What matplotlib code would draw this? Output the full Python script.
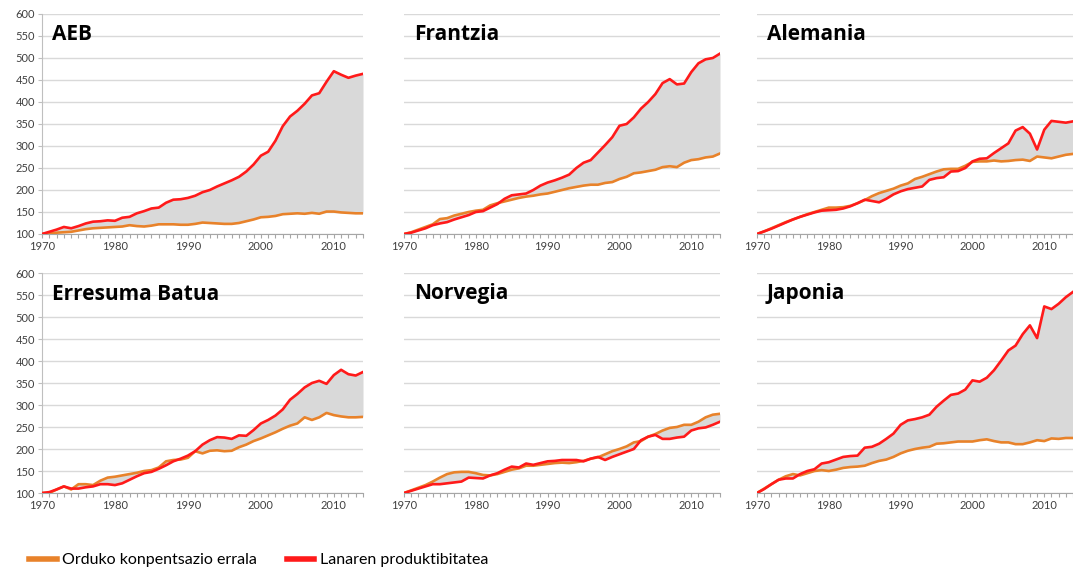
import numpy as np
import matplotlib.pyplot as plt
from matplotlib.lines import Line2D
from matplotlib import font_manager

plt.rcParams['font.family'] = ['Lato', 'DejaVu Sans']

years = np.arange(1970, 2015)

# AEB
aeb_prod = [100, 105, 110, 116, 113, 118, 124, 128, 129, 131, 130, 137, 139, 147, 152,
            158, 160, 171, 178, 179, 182, 187, 195, 200, 208, 215, 222, 230, 242, 258,
            278, 287, 312, 345, 367, 380, 396, 415, 420, 446, 470, 462, 455, 460, 464]
aeb_comp = [100, 101, 103, 104, 105, 108, 111, 113, 114, 115, 116, 117, 120, 118, 117,
            119, 122, 122, 122, 121, 121, 123, 126, 125, 124, 123, 123, 125, 129, 133,
            138, 139, 141, 145, 146, 147, 146, 148, 146, 151, 151, 149, 148, 147, 147]

# Frantzia
fra_prod = [100, 103, 108, 113, 120, 124, 127, 133, 138, 143, 150, 152, 160, 168, 180,
            188, 190, 192, 200, 210, 217, 222, 228, 235, 250, 262, 268, 285, 302, 320,
            346, 350, 365, 385, 400, 418, 443, 452, 440, 442, 468, 488, 497, 500, 510]
fra_comp = [100, 104, 110, 116, 122, 134, 136, 142, 146, 150, 153, 155, 165, 170, 174,
            178, 182, 185, 187, 190, 192, 196, 200, 204, 207, 210, 212, 212, 216, 218,
            225, 230, 238, 240, 243, 246, 252, 254, 252, 262, 268, 270, 274, 276, 283]

# Alemania
ale_prod = [100, 106, 112, 119, 126, 133, 139, 144, 149, 153, 154, 155, 158, 163, 170,
            178, 175, 172, 180, 190, 197, 202, 205, 208, 223, 227, 229, 242, 243, 250,
            265, 271, 272, 284, 295, 306, 335, 343, 328, 292, 337, 357, 355, 353, 356]
ale_comp = [100, 106, 113, 120, 127, 133, 139, 145, 150, 155, 160, 160, 161, 164, 170,
            177, 186, 193, 198, 203, 210, 215, 225, 230, 236, 242, 247, 248, 248, 255,
            264, 265, 265, 267, 265, 266, 268, 269, 266, 276, 274, 272, 276, 280, 282]

# Erresuma Batua
uk_prod = [100, 102, 108, 115, 110, 110, 113, 115, 120, 120, 118, 122, 130, 138, 145,
           148, 155, 163, 172, 178, 185, 195, 210, 220, 227, 226, 223, 231, 230, 243,
           258, 266, 276, 290, 312, 325, 340, 350, 355, 348, 368, 380, 370, 367, 375]
uk_comp = [100, 100, 108, 115, 108, 120, 120, 118, 128, 135, 137, 140, 143, 146, 150,
           152, 158, 172, 175, 176, 180, 195, 190, 196, 197, 195, 196, 204, 210, 218,
           224, 231, 238, 246, 253, 258, 272, 266, 272, 282, 277, 274, 272, 272, 273]

# Norvegia
nor_prod = [100, 105, 110, 115, 120, 120, 122, 124, 126, 135, 134, 133, 140, 145, 153,
            160, 158, 167, 164, 168, 172, 173, 175, 175, 175, 172, 178, 182, 175, 182,
            188, 194, 200, 220, 228, 232, 223, 223, 226, 228, 242, 247, 249, 255, 262]
nor_comp = [100, 106, 112, 118, 126, 135, 143, 147, 148, 148, 145, 141, 140, 143, 148,
            153, 156, 162, 162, 164, 166, 168, 169, 168, 170, 173, 178, 181, 188, 195,
            200, 206, 215, 218, 228, 234, 242, 248, 250, 255, 255, 262, 272, 278, 280]

# Japonia
jap_prod = [100, 109, 120, 130, 133, 133, 143, 150, 154, 167, 170, 176, 182, 184, 185,
            203, 205, 212, 223, 235, 255, 265, 268, 272, 278, 296, 310, 323, 326, 335,
            356, 353, 362, 379, 401, 424, 435, 461, 481, 452, 524, 518, 530, 545, 557]
jap_comp = [100, 110, 120, 130, 138, 143, 140, 145, 150, 152, 150, 153, 157, 159, 160,
            162, 168, 173, 176, 182, 190, 196, 200, 203, 205, 212, 213, 215, 217, 217,
            217, 220, 222, 218, 215, 215, 211, 211, 215, 220, 218, 224, 223, 225, 225]

titles = ['AEB', 'Frantzia', 'Alemania', 'Erresuma Batua', 'Norvegia', 'Japonia']
prod = [aeb_prod, fra_prod, ale_prod, uk_prod, nor_prod, jap_prod]
comp = [aeb_comp, fra_comp, ale_comp, uk_comp, nor_comp, jap_comp]
legend_labels = ['Orduko konpentsazio errala', 'Lanaren produktibitatea']

red = '#ff1a1a'
orange = '#e8822a'
fill = '#d9d9d9'
grid = '#d9d9d9'
text_col = '#404040'

# narrow font for the legend if it is there
names = {f.name for f in font_manager.fontManager.ttflist}
if 'Liberation Sans Narrow' in names:
    leg_font, leg_size = 'Liberation Sans Narrow', 13.5
else:
    leg_font, leg_size = 'Lato', 11.5

W, H = 1073, 575
fig = plt.figure(figsize=(W / 100, H / 100), dpi=100)

lefts = [42, 404, 757]
widths = [321, 316, 316]
tops = [14, 273]
ax_h = 220

for i in range(6):
    r, c = divmod(i, 3)
    ax = fig.add_axes([lefts[c] / W, 1 - (tops[r] + ax_h) / H, widths[c] / W, ax_h / H])
    p = np.array(prod[i])
    q = np.array(comp[i])
    ax.fill_between(years, p, q, color=fill, lw=0, zorder=1)
    ax.plot(years, q, color=orange, lw=1.9, zorder=3, solid_joinstyle='round')
    ax.plot(years, p, color=red, lw=1.9, zorder=4, solid_joinstyle='round')
    ax.set_xlim(1970, 2014)
    ax.set_ylim(100, 600)
    ax.set_yticks(range(100, 601, 50))
    ax.yaxis.grid(True, color=grid, lw=1)
    ax.set_axisbelow(True)
    ax.set_xticks(range(1970, 2011, 10))
    ax.set_xticks(years, minor=True)
    ax.tick_params(axis='x', which='both', length=3, width=0.8, color='#a6a6a6',
                   labelsize=8, labelcolor=text_col, pad=2)
    for s in ['top', 'right']:
        ax.spines[s].set_visible(False)
    ax.spines['bottom'].set_color('#a6a6a6')
    if c == 0:
        ax.spines['left'].set_color('#bfbfbf')
        ax.tick_params(axis='y', length=3, color='#bfbfbf', labelsize=8,
                       labelcolor=text_col, pad=2)
    else:
        ax.spines['left'].set_visible(False)
        ax.tick_params(axis='y', length=0, labelleft=False)
    ax.text(10 / widths[c], 1 - 21 / ax_h, titles[i], transform=ax.transAxes,
            fontsize=15, fontweight='bold', va='center', ha='left', color='black',
            family=['Open Sans', 'DejaVu Sans'])

handles = [Line2D([], [], color=orange, lw=4), Line2D([], [], color=red, lw=4)]
fig.legend(handles, legend_labels,
           loc='center left', bbox_to_anchor=(15 / W, 1 - 560 / H), ncol=2,
           frameon=False, prop={'family': [leg_font, 'DejaVu Sans'], 'size': leg_size},
           handlelength=1.7, handletextpad=0.35, columnspacing=1.9)

fig.savefig('out.png', dpi=100)
